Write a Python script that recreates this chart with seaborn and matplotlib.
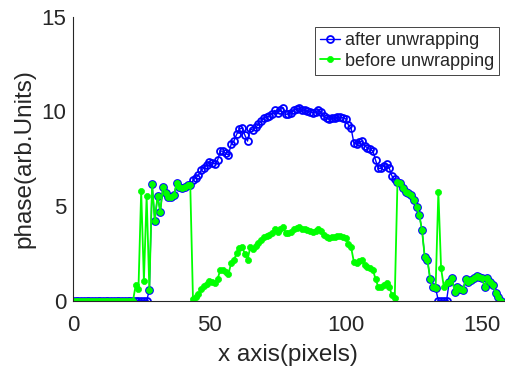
import matplotlib
matplotlib.use("Agg")
import matplotlib.pyplot as plt
import numpy as np
import pandas as pd
import seaborn as sns

# pixel index along the x axis
x_pixels = list(range(0, 158))

# phase after unwrapping (blue)
after_unwrapping = (
    [0.0] * 28
    + [0.56, 6.15, 4.23, 5.53, 4.70, 6.02, 5.67, 5.50, 5.49, 5.58,
       6.20, 6.02, 5.95, 6.00, 6.11, 6.10]
    + [6.35, 6.49, 6.63, 6.88, 7.03, 7.16, 7.34, 7.28, 7.23, 7.41,
       7.90, 7.90, 7.78, 7.69, 8.26, 8.43, 8.78, 9.05, 9.13, 8.75,
       8.43, 9.10, 8.99, 9.18, 9.31, 9.49, 9.63, 9.70, 9.75, 9.88,
       10.05, 9.92, 10.08, 10.19, 9.84, 9.87, 9.93, 10.05, 10.13, 10.19,
       10.08, 10.05, 10.01, 9.98, 9.92, 9.98, 10.05, 9.98, 9.73, 9.63,
       9.58, 9.63, 9.66, 9.68, 9.70, 9.66, 9.61, 9.28, 9.10, 8.34,
       8.26, 8.38, 8.43, 8.17, 8.08, 7.99, 7.90, 7.41, 6.99, 6.99,
       7.13, 7.20, 6.99, 6.58, 6.41]
    + [6.25, 6.20, 5.94, 5.76, 5.67, 5.58, 5.32, 4.97, 4.53, 3.73,
       2.32, 2.15, 1.13, 0.74, 0.65]
    + [0.0, 0.0, 0.0, 0.0]
    + [1.00, 1.18, 0.48, 0.74, 0.60, 0.56, 1.13, 1.00, 1.09, 1.18,
       1.30, 1.25, 1.18, 0.74, 1.18, 1.00, 0.83, 0.39, 0.21, 0.00]
)

# phase before unwrapping (green)
before_unwrapping = (
    [0.0] * 23
    + [0.83, 0.62, 5.80, 1.04, 5.55]
    + [0.56, 6.15, 4.23, 5.53, 4.70, 6.02, 5.67, 5.50, 5.49, 5.58,
       6.20, 6.02, 5.95, 6.00, 6.11, 6.10]
    + [0.07, 0.21, 0.35, 0.60, 0.75, 0.88, 1.06, 1.00, 0.95, 1.13,
       1.62, 1.62, 1.50, 1.41, 1.98, 2.15, 2.50, 2.77, 2.85, 2.47,
       2.15, 2.82, 2.71, 2.90, 3.03, 3.21, 3.35, 3.42, 3.47, 3.60,
       3.77, 3.64, 3.80, 3.91, 3.56, 3.59, 3.65, 3.77, 3.85, 3.91,
       3.80, 3.77, 3.73, 3.70, 3.64, 3.70, 3.77, 3.70, 3.45, 3.35,
       3.30, 3.35, 3.38, 3.40, 3.42, 3.38, 3.33, 3.00, 2.82, 2.06,
       1.98, 2.10, 2.15, 1.89, 1.80, 1.71, 1.62, 1.13, 0.71, 0.71,
       0.85, 0.92, 0.71, 0.30, 0.13]
    + [6.25, 6.20, 5.94, 5.76, 5.67, 5.58, 5.32, 4.97, 4.53, 3.73,
       2.32, 2.15, 1.13, 0.74, 0.65]
    + [5.76, 1.71, 0.74, 0.92]
    + [1.00, 1.18, 0.48, 0.74, 0.60, 0.56, 1.13, 1.00, 1.09, 1.18,
       1.30, 1.25, 1.18, 0.74, 1.18, 1.00, 0.83, 0.39, 0.21, 0.00]
)

x_ticks = [0, 50, 100, 150]
y_ticks = [0, 5, 10, 15]

df = pd.DataFrame({
    "x": x_pixels,
    "after": after_unwrapping,
    "before": before_unwrapping,
})

sns.set_style("white")
plt.rcParams["font.family"] = ["Liberation Sans", "DejaVu Sans"]

fig = plt.figure(figsize=(5.05, 3.71), dpi=100)
ax = fig.add_axes([0.1446, 0.1895, 0.853, 0.7655])

sns.lineplot(data=df, x="x", y="after", ax=ax, color="#0000ff", linewidth=1.0,
             marker="o", markersize=5.0, markerfacecolor="none",
             markeredgecolor="#0000ff", markeredgewidth=1.3,
             label="after unwrapping")
sns.lineplot(data=df, x="x", y="before", ax=ax, color="#00ff00", linewidth=1.3,
             marker="o", markersize=4.4, markerfacecolor="#00ff00",
             markeredgecolor="#00ff00", markeredgewidth=0.5,
             label="before unwrapping")

ax.set_xlim(0, 158)
ax.set_ylim(0, 15)
ax.set_xticks(x_ticks)
ax.set_yticks(y_ticks)
ax.set_xlabel("x axis(pixels)", fontsize=17.5, color="#262626", labelpad=6)
ax.set_ylabel("phase(arb.Units)", fontsize=17.5, color="#262626", labelpad=4)
ax.tick_params(direction="in", length=4, width=0.8, colors="#262626",
               labelsize=16, pad=5)
ax.tick_params(axis="x", pad=10)
for side in ["top", "right"]:
    ax.spines[side].set_visible(False)
for side in ["left", "bottom"]:
    ax.spines[side].set_color("#262626")
    ax.spines[side].set_linewidth(0.8)

leg = ax.legend(loc="upper right", bbox_to_anchor=(0.99, 0.965), fontsize=13,
                frameon=True, fancybox=False, framealpha=1, edgecolor="#262626",
                handlelength=1.1, handletextpad=0.25, borderpad=0.3,
                labelspacing=0.2, borderaxespad=0)
leg.get_frame().set_linewidth(0.6)

plt.savefig("out.png", dpi=100)
